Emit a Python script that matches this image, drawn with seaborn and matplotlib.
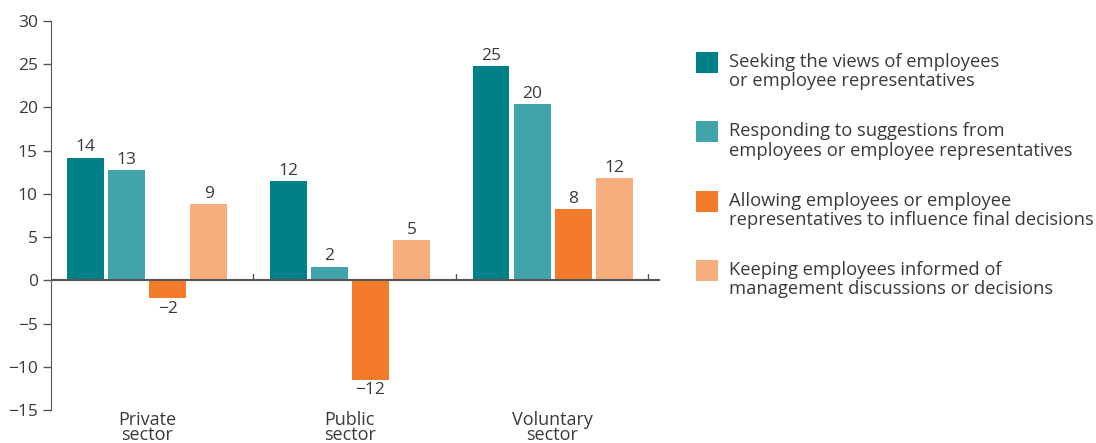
import numpy as np
import pandas as pd
import seaborn as sns
import matplotlib.pyplot as plt
from matplotlib.patches import Rectangle

# data
sectors = ['Private\nsector', 'Public\nsector', 'Voluntary\nsector']
measures = ['Seeking the views of employees\nor employee representatives',
            'Responding to suggestions from\nemployees or employee representatives',
            'Allowing employees or employee\nrepresentatives to influence final decisions',
            'Keeping employees informed of\nmanagement discussions or decisions']
seeking = [14.2, 11.5, 24.8]
responding = [12.8, 1.6, 20.4]
allowing = [-2.1, -11.5, 8.2]
keeping = [8.8, 4.7, 11.8]
colors = ['#00818a', '#41a3ab', '#f47b2a', '#f7ae7d']

rows = []
for m, vals in zip(measures, [seeking, responding, allowing, keeping]):
    for s, v in zip(sectors, vals):
        rows.append({'sector': s, 'measure': m, 'value': v})
df = pd.DataFrame(rows)

sns.set_style('white')
plt.rcParams['font.family'] = ['Open Sans', 'DejaVu Sans']
text_col = '#3a3a3a'
line_col = '#555555'

W, H = 1096, 443
fig = plt.figure(figsize=(W / 100, H / 100), dpi=100)
ax = fig.add_axes([51 / W, 1 - 410 / H, 609 / W, 389 / H])

sns.barplot(data=df, x='sector', y='value', hue='measure', order=sectors,
            hue_order=measures, palette=colors, width=0.81, gap=0.1,
            saturation=1, linewidth=0, ax=ax, legend=False)

for cont in ax.containers:
    labels = [f'{int(round(b.get_height()))}'.replace('-', '\u2212') for b in cont]
    ax.bar_label(cont, labels=labels, padding=1.5, fontsize=12.5, color=text_col)

ax.set_xlim(-0.474, 2.53)
ax.set_ylim(-15, 30)
ax.set_yticks(range(-15, 31, 5))
ax.axhline(0, color=line_col, lw=1.5, zorder=5)
for xb in [0.52, 1.525, 2.47]:
    ax.plot([xb, xb], [0, 0.7], color=line_col, lw=1, zorder=5)

sns.despine(ax=ax, top=True, right=True, bottom=True)
ax.spines['left'].set_color(line_col)
ax.tick_params(axis='y', direction='out', length=6, width=1, color=line_col,
               labelsize=12.5, labelcolor=text_col, left=True)
ax.tick_params(axis='x', length=0, labelsize=13, labelcolor=text_col, pad=1)
ax.set_xlabel('')
ax.set_ylabel('')
for lab in ax.get_xticklabels():
    lab.set_linespacing(0.78)

# legend drawn by hand so the swatch lines up with the first text line
for i, (m, c) in enumerate(zip(measures, colors)):
    top = 52 + i * 69.3
    fig.patches.append(Rectangle((696 / W, 1 - (top + 21) / H), 22 / W, 21 / H,
                                 transform=fig.transFigure, facecolor=c,
                                 edgecolor='none'))
    fig.text(729 / W, 1 - (top + 1) / H, m, ha='left', va='top', fontsize=13.2,
             color=text_col, linespacing=1.1)

fig.savefig('out.png', dpi=100)
